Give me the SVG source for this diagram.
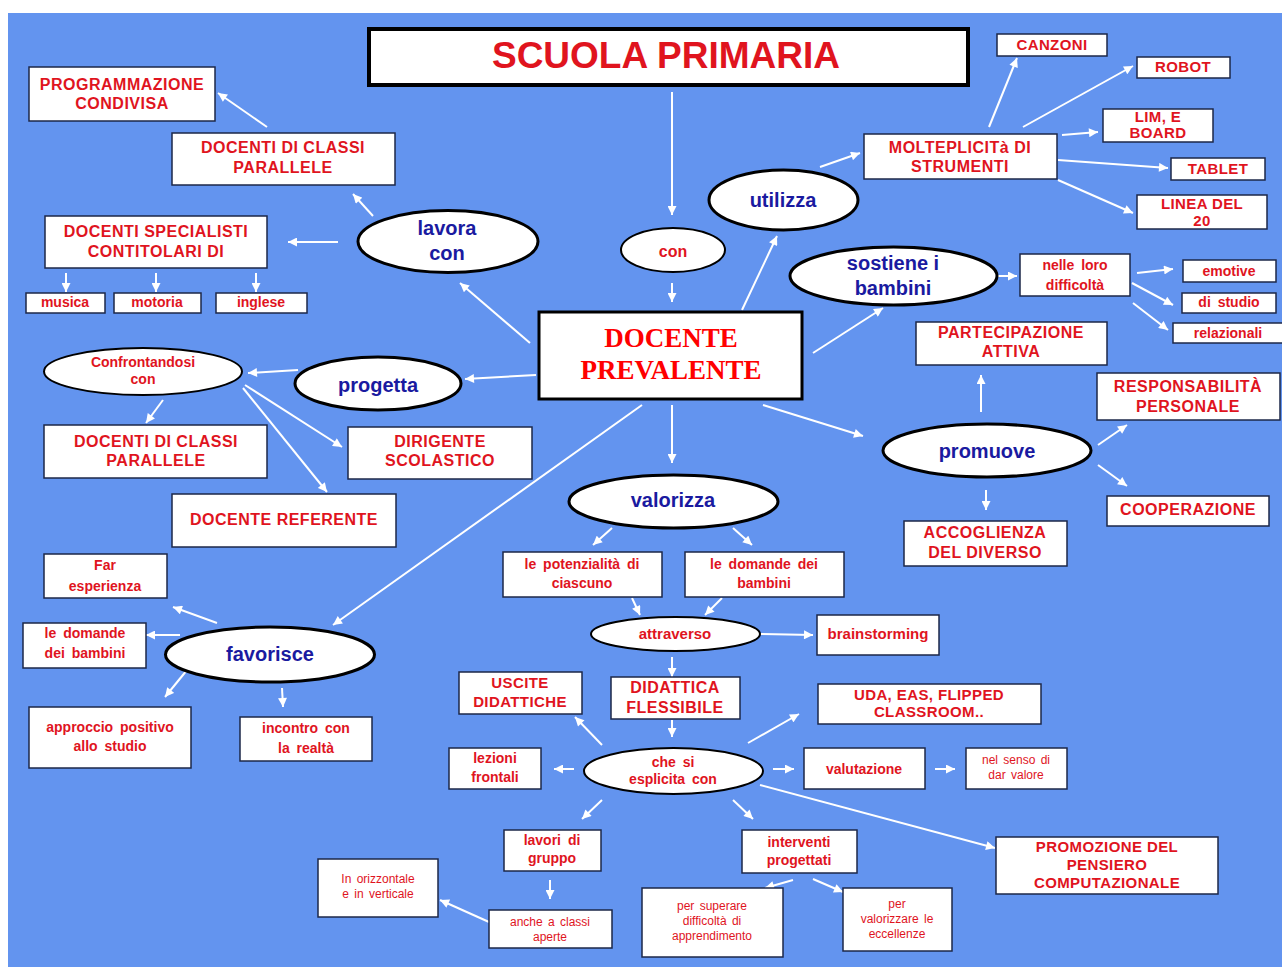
<svg xmlns="http://www.w3.org/2000/svg" width="1282" height="967" viewBox="0 0 1282 967">
<defs>
<marker id="ah" viewBox="0 0 10 10" refX="10" refY="5" markerWidth="10" markerHeight="9" markerUnits="userSpaceOnUse" orient="auto"><path d="M0,0 L10,5 L0,10 z" fill="#fff"/></marker>
<style>
.bx{fill:#fff;stroke:#1d2748;stroke-width:1.5}
.ov{fill:#fff;stroke:#000;stroke-width:3}
.t{font-family:"Liberation Sans",Arial,sans-serif;font-weight:bold;fill:#e0141e;text-anchor:middle}
.c16{font-size:16px;letter-spacing:0.5px}
.c15{font-size:15px;letter-spacing:0.4px}
.l15{font-size:15px;word-spacing:3px}
.l14{font-size:14px;word-spacing:3px}
.s12{font-size:12px;font-weight:normal;word-spacing:2px}
.bl{fill:#1a1aa0;font-size:20px}
.cn line{stroke:#fff;stroke-width:2;marker-end:url(#ah)}
</style>
</defs>
<rect x="0" y="0" width="1282" height="967" fill="#fff"/>
<rect x="8" y="13" width="1274" height="954" fill="#6394EF"/>

<g class="cn">
<line x1="672" y1="92" x2="672" y2="215"/>
<line x1="672" y1="283" x2="672" y2="302"/>
<line x1="530" y1="343" x2="460" y2="283"/>
<line x1="373" y1="216" x2="353" y2="194"/>
<line x1="267" y1="127" x2="218" y2="93"/>
<line x1="338" y1="242" x2="288" y2="242"/>
<line x1="66" y1="273" x2="66" y2="292"/>
<line x1="156" y1="273" x2="156" y2="292"/>
<line x1="256" y1="273" x2="256" y2="292"/>
<line x1="742" y1="310" x2="777" y2="236"/>
<line x1="820" y1="167" x2="860" y2="153"/>
<line x1="989" y1="127" x2="1017" y2="58"/>
<line x1="1023" y1="127" x2="1133" y2="66"/>
<line x1="1062" y1="135" x2="1098" y2="132"/>
<line x1="1058" y1="160" x2="1168" y2="168"/>
<line x1="1058" y1="180" x2="1133" y2="213"/>
<line x1="813" y1="353" x2="883" y2="308"/>
<line x1="998" y1="276" x2="1017" y2="276"/>
<line x1="1137" y1="273" x2="1173" y2="269"/>
<line x1="1132" y1="283" x2="1173" y2="305"/>
<line x1="1133" y1="303" x2="1168" y2="330"/>
<line x1="536" y1="375" x2="465" y2="379"/>
<line x1="298" y1="370" x2="248" y2="373"/>
<line x1="163" y1="400" x2="146" y2="423"/>
<line x1="245" y1="385" x2="342" y2="447"/>
<line x1="243" y1="388" x2="327" y2="492"/>
<line x1="763" y1="405" x2="863" y2="436"/>
<line x1="981" y1="412" x2="981" y2="375"/>
<line x1="1098" y1="445" x2="1127" y2="425"/>
<line x1="1098" y1="465" x2="1127" y2="486"/>
<line x1="986" y1="490" x2="986" y2="510"/>
<line x1="672" y1="405" x2="672" y2="463"/>
<line x1="642" y1="405" x2="333" y2="625"/>
<line x1="612" y1="528" x2="593" y2="545"/>
<line x1="733" y1="528" x2="752" y2="545"/>
<line x1="632" y1="598" x2="640" y2="615"/>
<line x1="722" y1="598" x2="705" y2="615"/>
<line x1="760" y1="634" x2="813" y2="635"/>
<line x1="672" y1="657" x2="672" y2="677"/>
<line x1="672" y1="720" x2="672" y2="737"/>
<line x1="217" y1="623" x2="173" y2="607"/>
<line x1="180" y1="635" x2="146" y2="635"/>
<line x1="187" y1="670" x2="165" y2="697"/>
<line x1="282" y1="688" x2="283" y2="707"/>
<line x1="602" y1="745" x2="575" y2="717"/>
<line x1="574" y1="769" x2="554" y2="769"/>
<line x1="748" y1="743" x2="799" y2="714"/>
<line x1="773" y1="769" x2="794" y2="769"/>
<line x1="935" y1="769" x2="955" y2="769"/>
<line x1="760" y1="785" x2="995" y2="848"/>
<line x1="602" y1="800" x2="582" y2="819"/>
<line x1="733" y1="800" x2="753" y2="819"/>
<line x1="550" y1="880" x2="550" y2="899"/>
<line x1="489" y1="922" x2="440" y2="900"/>
<line x1="793" y1="880" x2="765" y2="888"/>
<line x1="813" y1="879" x2="843" y2="892"/>
</g>

<g id="n-title"><rect x="369" y="29" width="599" height="56" fill="#fff" stroke="#000" stroke-width="4"/><text class="t" x="666" y="68" style="font-size:37px">SCUOLA PRIMARIA</text></g>
<g id="n-prog"><rect class="bx" x="29" y="67" width="186" height="54"/><text class="t c16" x="122" y="90">PROGRAMMAZIONE</text><text class="t c16" x="122" y="109">CONDIVISA</text></g>
<g id="n-dcp1"><rect class="bx" x="172" y="133" width="223" height="52"/><text class="t c16" x="283" y="153">DOCENTI DI CLASSI</text><text class="t c16" x="283" y="173">PARALLELE</text></g>
<g id="n-spec"><rect class="bx" x="45" y="216" width="222" height="52"/><text class="t c16" x="156" y="237">DOCENTI SPECIALISTI</text><text class="t c16" x="156" y="257">CONTITOLARI DI</text></g>
<g id="n-mus"><rect class="bx" x="26" y="293" width="79" height="20"/><text class="t l14" x="65" y="307">musica</text></g>
<g id="n-mot"><rect class="bx" x="114" y="293" width="87" height="20"/><text class="t l14" x="157" y="307">motoria</text></g>
<g id="n-ing"><rect class="bx" x="216" y="293" width="91" height="20"/><text class="t l14" x="261" y="307">inglese</text></g>
<g id="n-lav"><ellipse class="ov" cx="448" cy="241.5" rx="90" ry="31"/><text class="t bl" x="447" y="235">lavora</text><text class="t bl" x="447" y="260">con</text></g>
<g id="n-con"><ellipse class="ov" cx="673" cy="250" rx="52" ry="22" style="stroke-width:2"/><text class="t" x="673" y="257" style="font-size:16px">con</text></g>
<g id="n-uti"><ellipse class="ov" cx="783.5" cy="200" rx="74.5" ry="30"/><text class="t bl" x="783" y="207">utilizza</text></g>
<g id="n-mol"><rect class="bx" x="864" y="134" width="193" height="45"/><text class="t c16" x="960" y="153">MOLTEPLICITà DI</text><text class="t c16" x="960" y="172">STRUMENTI</text></g>
<g id="n-can"><rect class="bx" x="997" y="34" width="110" height="22"/><text class="t c15" x="1052" y="50">CANZONI</text></g>
<g id="n-rob"><rect class="bx" x="1137" y="57" width="93" height="21"/><text class="t c15" x="1183" y="72">ROBOT</text></g>
<g id="n-lim"><rect class="bx" x="1103" y="109" width="110" height="33"/><text class="t c15" x="1158" y="122">LIM, E</text><text class="t c15" x="1158" y="138">BOARD</text></g>
<g id="n-tab"><rect class="bx" x="1171" y="158" width="94" height="22"/><text class="t c15" x="1218" y="174">TABLET</text></g>
<g id="n-lin"><rect class="bx" x="1137" y="195" width="130" height="34"/><text class="t c15" x="1202" y="209">LINEA DEL</text><text class="t c15" x="1202" y="226">20</text></g>
<g id="n-sos"><ellipse class="ov" cx="893.5" cy="276" rx="103.5" ry="29"/><text class="t bl" x="893" y="270">sostiene i</text><text class="t bl" x="893" y="295">bambini</text></g>
<g id="n-nel"><rect class="bx" x="1020" y="254" width="110" height="42"/><text class="t l14" x="1075" y="270">nelle loro</text><text class="t l14" x="1075" y="290">difficoltà</text></g>
<g id="n-emo"><rect class="bx" x="1183" y="260" width="93" height="22"/><text class="t l14" x="1229" y="276">emotive</text></g>
<g id="n-dis"><rect class="bx" x="1182" y="293" width="94" height="20"/><text class="t l14" x="1229" y="307">di studio</text></g>
<g id="n-rel"><rect class="bx" x="1173" y="323" width="111" height="20"/><text class="t l14" x="1228" y="338">relazionali</text></g>
<g id="n-doc"><rect x="539" y="312" width="263" height="87" fill="#fff" stroke="#000" stroke-width="3"/><text x="671" y="347" text-anchor="middle" style="font-family:'Liberation Serif','Times New Roman',serif;font-weight:bold;font-size:27px;fill:#ff0000">DOCENTE</text><text x="671" y="379" text-anchor="middle" style="font-family:'Liberation Serif','Times New Roman',serif;font-weight:bold;font-size:27px;fill:#ff0000">PREVALENTE</text></g>
<g id="n-par"><rect class="bx" x="916" y="322" width="191" height="43"/><text class="t c16" x="1011" y="338">PARTECIPAZIONE</text><text class="t c16" x="1011" y="357">ATTIVA</text></g>
<g id="n-res"><rect class="bx" x="1097" y="373" width="183" height="47"/><text class="t c16" x="1188" y="392">RESPONSABILITÀ</text><text class="t c16" x="1188" y="412">PERSONALE</text></g>
<g id="n-pro"><ellipse class="ov" cx="987" cy="450.5" rx="104" ry="26.5"/><text class="t bl" x="987" y="458">promuove</text></g>
<g id="n-coo"><rect class="bx" x="1107" y="496" width="162" height="30"/><text class="t c16" x="1188" y="515">COOPERAZIONE</text></g>
<g id="n-acc"><rect class="bx" x="904" y="521" width="163" height="45"/><text class="t c16" x="985" y="538">ACCOGLIENZA</text><text class="t c16" x="985" y="558">DEL DIVERSO</text></g>
<g id="n-cfr"><ellipse class="ov" cx="143" cy="371.5" rx="99" ry="23.5" style="stroke-width:2"/><text class="t" x="143" y="367" style="font-size:14px">Confrontandosi</text><text class="t" x="143" y="384" style="font-size:14px">con</text></g>
<g id="n-prg"><ellipse class="ov" cx="378" cy="383.5" rx="83" ry="26.5"/><text class="t bl" x="378" y="392">progetta</text></g>
<g id="n-dcp2"><rect class="bx" x="44" y="425" width="223" height="53"/><text class="t c16" x="156" y="447">DOCENTI DI CLASSI</text><text class="t c16" x="156" y="466">PARALLELE</text></g>
<g id="n-dir"><rect class="bx" x="348" y="427" width="184" height="52"/><text class="t c16" x="440" y="447">DIRIGENTE</text><text class="t c16" x="440" y="466">SCOLASTICO</text></g>
<g id="n-ref"><rect class="bx" x="172" y="494" width="224" height="53"/><text class="t c16" x="284" y="525">DOCENTE REFERENTE</text></g>
<g id="n-val"><ellipse class="ov" cx="673.5" cy="501.5" rx="104.5" ry="26.5"/><text class="t bl" x="673" y="507">valorizza</text></g>
<g id="n-pot"><rect class="bx" x="503" y="552" width="159" height="45"/><text class="t l14" x="582" y="569">le potenzialità di</text><text class="t l14" x="582" y="588">ciascuno</text></g>
<g id="n-dom"><rect class="bx" x="685" y="552" width="159" height="45"/><text class="t l14" x="764" y="569">le domande dei</text><text class="t l14" x="764" y="588">bambini</text></g>
<g id="n-att"><ellipse class="ov" cx="675.5" cy="634" rx="84.5" ry="17" style="stroke-width:2"/><text class="t" x="675" y="639" style="font-size:15px">attraverso</text></g>
<g id="n-bra"><rect class="bx" x="817" y="615" width="122" height="40"/><text class="t l15" x="878" y="639">brainstorming</text></g>
<g id="n-far"><rect class="bx" x="44" y="554" width="123" height="44"/><text class="t l14" x="105" y="570">Far</text><text class="t l14" x="105" y="591">esperienza</text></g>
<g id="n-dmb"><rect class="bx" x="23" y="623" width="123" height="45"/><text class="t l14" x="85" y="638">le domande</text><text class="t l14" x="85" y="658">dei bambini</text></g>
<g id="n-fav"><ellipse class="ov" cx="270" cy="654.5" rx="104.5" ry="27.5"/><text class="t bl" x="270" y="661">favorisce</text></g>
<g id="n-app"><rect class="bx" x="29" y="707" width="162" height="61"/><text class="t l14" x="110" y="732">approccio positivo</text><text class="t l14" x="110" y="751">allo studio</text></g>
<g id="n-inc"><rect class="bx" x="240" y="717" width="132" height="44"/><text class="t l14" x="306" y="733">incontro con</text><text class="t l14" x="306" y="753">la realtà</text></g>
<g id="n-usc"><rect class="bx" x="459" y="672" width="123" height="42"/><text class="t c15" x="520" y="688">USCITE</text><text class="t c15" x="520" y="707">DIDATTICHE</text></g>
<g id="n-did"><rect class="bx" x="611" y="677" width="129" height="42"/><text class="t c16" x="675" y="693">DIDATTICA</text><text class="t c16" x="675" y="713">FLESSIBILE</text></g>
<g id="n-uda"><rect class="bx" x="818" y="684" width="223" height="40"/><text class="t c15" x="929" y="700">UDA, EAS, FLIPPED</text><text class="t c15" x="929" y="717">CLASSROOM..</text></g>
<g id="n-lez"><rect class="bx" x="449" y="748" width="92" height="41"/><text class="t l14" x="495" y="763">lezioni</text><text class="t l14" x="495" y="782">frontali</text></g>
<g id="n-che"><ellipse class="ov" cx="673.5" cy="771" rx="89.5" ry="23" style="stroke-width:2"/><text class="t l14" x="673" y="767">che si</text><text class="t l14" x="673" y="784">esplicita con</text></g>
<g id="n-vlt"><rect class="bx" x="804" y="748" width="121" height="41"/><text class="t l14" x="864" y="774">valutazione</text></g>
<g id="n-nsd"><rect class="bx" x="966" y="748" width="101" height="41"/><text class="t s12" x="1016" y="764">nel senso di</text><text class="t s12" x="1016" y="779">dar valore</text></g>
<g id="n-lgr"><rect class="bx" x="504" y="830" width="97" height="41"/><text class="t l14" x="552" y="845">lavori di</text><text class="t l14" x="552" y="863">gruppo</text></g>
<g id="n-int"><rect class="bx" x="742" y="830" width="115" height="43"/><text class="t l14" x="799" y="847">interventi</text><text class="t l14" x="799" y="865">progettati</text></g>
<g id="n-pcm"><rect class="bx" x="996" y="837" width="222" height="57"/><text class="t c15" x="1107" y="852">PROMOZIONE DEL</text><text class="t c15" x="1107" y="870">PENSIERO</text><text class="t c15" x="1107" y="888">COMPUTAZIONALE</text></g>
<g id="n-orz"><rect class="bx" x="318" y="859" width="120" height="58"/><text class="t s12" x="378" y="883">In orizzontale</text><text class="t s12" x="378" y="898">e in verticale</text></g>
<g id="n-anc"><rect class="bx" x="489" y="910" width="123" height="38"/><text class="t s12" x="550" y="926">anche a classi</text><text class="t s12" x="550" y="941">aperte</text></g>
<g id="n-sup"><rect class="bx" x="642" y="888" width="141" height="69"/><text class="t s12" x="712" y="910">per superare</text><text class="t s12" x="712" y="925">difficoltà di</text><text class="t s12" x="712" y="940">apprendimento</text></g>
<g id="n-vlz"><rect class="bx" x="843" y="888" width="109" height="63"/><text class="t s12" x="897" y="908">per</text><text class="t s12" x="897" y="923">valorizzare le</text><text class="t s12" x="897" y="938">eccellenze</text></g>
</svg>
